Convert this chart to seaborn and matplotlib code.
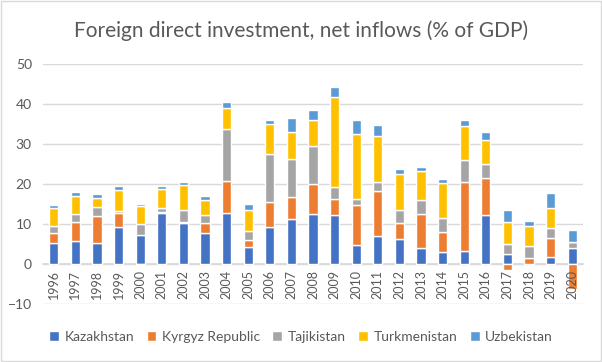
import numpy as np
import matplotlib
matplotlib.use("Agg")
import matplotlib.pyplot as plt
from matplotlib.patches import Rectangle
import seaborn as sns

years = [str(y) for y in range(1996, 2021)]

kazakhstan = [5.3, 5.8, 5.2, 9.3, 7.3, 12.7, 10.3, 7.8, 12.8, 4.3, 9.3, 11.3, 12.6,
              12.3, 4.8, 7.1, 6.3, 4.1, 3.1, 3.3, 12.3, 2.6, 0.1, 1.8, 4.1]
kyrgyz = [2.5, 4.8, 6.7, 3.5, -0.3, 0.2, 0.3, 2.5, 8.0, 1.8, 6.3, 5.5, 7.3,
          4.0, 10.0, 11.1, 4.0, 8.3, 4.8, 17.3, 9.3, -1.4, 1.5, 4.8, -6.2]
tajikistan = [1.8, 2.0, 2.3, 0.5, 2.8, 1.0, 2.9, 2.0, 13.0, 2.2, 12.0, 9.5, 9.5,
              3.0, 1.5, 2.2, 3.3, 3.5, 3.5, 5.5, 3.5, 2.5, 3.0, 2.5, 1.5]
turkmenistan = [4.5, 4.3, 2.3, 5.3, 4.5, 4.8, 6.3, 3.8, 5.3, 5.3, 7.3, 6.8, 6.5,
                22.5, 16.3, 11.5, 8.8, 7.3, 8.8, 8.5, 6.0, 5.5, 4.8, 4.8, 0.0]
uzbekistan = [0.7, 1.2, 1.0, 0.8, 0.5, 0.8, 0.8, 0.8, 1.5, 1.3, 1.0, 3.3, 2.5,
              2.5, 3.3, 2.8, 1.3, 1.0, 1.0, 1.3, 2.0, 3.0, 1.3, 3.8, 2.8]

series = ["Kazakhstan", "Kyrgyz Republic", "Tajikistan", "Turkmenistan", "Uzbekistan"]
values = [kazakhstan, kyrgyz, tajikistan, turkmenistan, uzbekistan]
colors = ["#4472C4", "#ED7D31", "#A5A5A5", "#FFC000", "#5B9BD5"]

sns.set_theme(style="white")
plt.rcParams["font.family"] = ["Lato", "DejaVu Sans"]

fig = plt.figure(figsize=(6.02, 3.62), dpi=100)
ax = fig.add_axes([0.0714, 0.160, 0.897, 0.663])

# Excel-style stacking: positives pile up from 0, negatives pile down from 0
pos_base = np.zeros(len(years))
neg_base = np.zeros(len(years))
for name, vals, c in zip(series, values, colors):
    vals = np.array(vals, dtype=float)
    bottom = np.where(vals >= 0, pos_base, neg_base)
    sns.barplot(x=years, y=vals, bottom=bottom, color=c, width=0.42,
                saturation=1, ax=ax, label=name, zorder=3)
    pos_base += np.where(vals >= 0, vals, 0)
    neg_base += np.where(vals < 0, vals, 0)

if ax.get_legend() is not None:
    ax.get_legend().remove()

ax.set_ylim(-10, 50)
ax.set_yticks(range(-10, 51, 10))
ax.yaxis.grid(True, color="#d9d9d9", linewidth=1, zorder=0)
ax.set_xlabel("")
ax.set_ylabel("")
for s in ["top", "right", "left"]:
    ax.spines[s].set_visible(False)
ax.spines["bottom"].set_position(("data", 0))
ax.spines["bottom"].set_color("#d9d9d9")
ax.spines["bottom"].set_zorder(2)
ax.xaxis.set_zorder(5)
ax.tick_params(axis="x", length=0, pad=4, labelsize=9, labelcolor="#595959", rotation=90)
ax.tick_params(axis="y", length=0, pad=8, labelsize=10, labelcolor="#595959")

fig.suptitle("Foreign direct investment, net inflows (% of GDP)", y=0.945,
             fontsize=15, color="#595959")

handles, labels = ax.get_legend_handles_labels()
fig.legend(handles, labels, loc="center", bbox_to_anchor=(0.5, 0.069), ncol=5,
           frameon=False, fontsize=10, handlelength=0.7, handleheight=0.7,
           handletextpad=0.4, columnspacing=0.9, labelcolor="#595959")

fig.add_artist(Rectangle((0.001, 0.002), 0.997, 0.995, transform=fig.transFigure,
                         fill=False, edgecolor="#d9d9d9", linewidth=1))

fig.savefig("out.png", dpi=100)
